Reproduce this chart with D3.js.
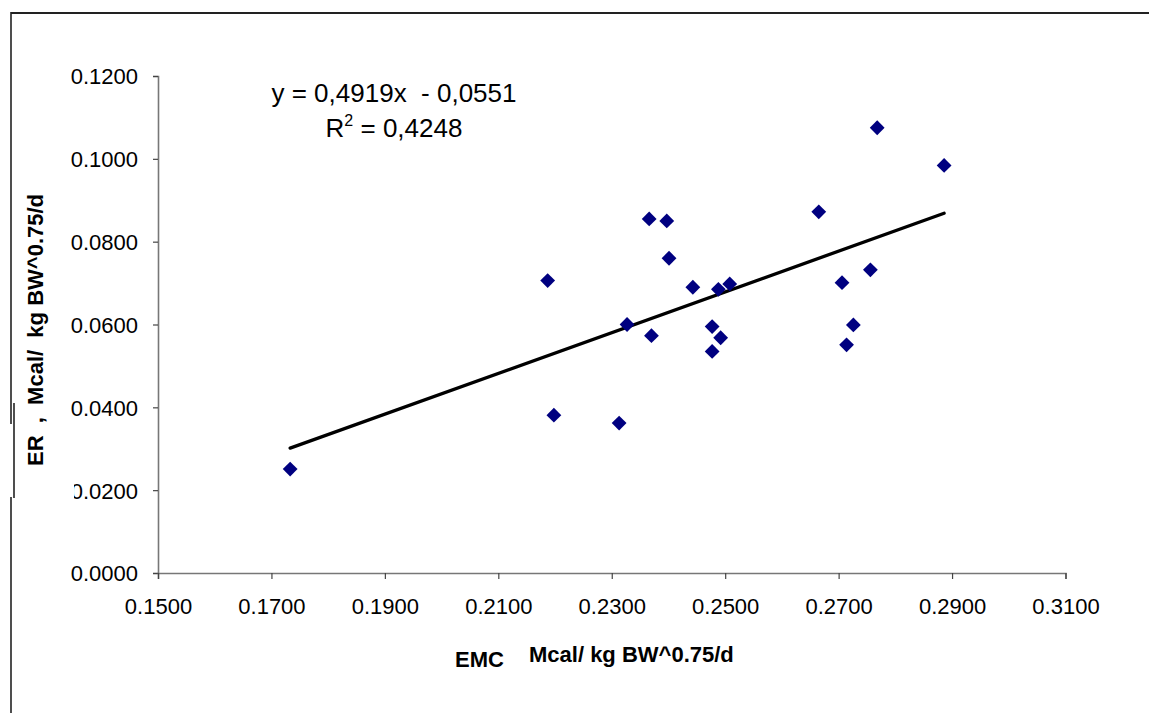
<!DOCTYPE html>
<html>
<head>
<meta charset="utf-8">
<script src="https://cdn.jsdelivr.net/npm/d3@7"></script>
<style>
  html, body { margin: 0; padding: 0; background: #fff; }
  svg { display: block; font-family: "Liberation Sans", Arial, sans-serif; }
</style>
</head>
<body>
<svg id="chart" width="1149" height="713"></svg>
<script>
// ---- data ----
const emc = [0.1733, 0.2187, 0.2198, 0.2313, 0.2327, 0.2366, 0.2370, 0.2397, 0.2401, 0.2443,
             0.2477, 0.2477, 0.2488, 0.2492, 0.2508, 0.2665, 0.2706, 0.2714, 0.2726, 0.2756,
             0.2768, 0.2886];
const er  = [0.0251, 0.0706, 0.0381, 0.0362, 0.0600, 0.0855, 0.0573, 0.0850, 0.0760, 0.0690,
             0.0595, 0.0535, 0.0685, 0.0568, 0.0698, 0.0872, 0.0701, 0.0551, 0.0599, 0.0732,
             0.1075, 0.0984];
const xTicks = [0.15, 0.17, 0.19, 0.21, 0.23, 0.25, 0.27, 0.29, 0.31];
const yTicks = [0, 0.02, 0.04, 0.06, 0.08, 0.10, 0.12];
const slope = 0.4919, intercept = -0.0551;
const eqText = "y = 0,4919x  - 0,0551";
const r2Text = " = 0,4248";
const xTitleA = "EMC";
const xTitleB = "Mcal/ kg BW^0.75/d";
const yTitle = "ER  ,  Mcal/  kg BW^0.75/d";

// ---- chart ----
const svg = d3.select("#chart");
const x = d3.scaleLinear().domain([0.15, 0.31]).range([158, 1065.5]);
const y = d3.scaleLinear().domain([0, 0.12]).range([573, 76]);

// outer frame (partial, as in the reference)
const frame = svg.append("g").attr("stroke", "#222").attr("fill", "none");
frame.append("line").attr("x1", 11).attr("x2", 1149).attr("y1", 13).attr("y2", 13).attr("stroke-width", 2);
frame.append("line").attr("x1", 11).attr("x2", 11).attr("y1", 12).attr("y2", 424).attr("stroke-width", 1.6);
frame.append("line").attr("x1", 14).attr("x2", 14).attr("y1", 403).attr("y2", 498).attr("stroke-width", 1.6);
frame.append("line").attr("x1", 11).attr("x2", 11).attr("y1", 497).attr("y2", 713).attr("stroke-width", 1.6);

// axes
const yAxis = svg.append("g").attr("transform", `translate(${x(0.15)},0)`)
  .call(d3.axisLeft(y).tickValues(yTicks).tickSize(5).tickPadding(15).tickFormat(d3.format(".4f")));
const xAxis = svg.append("g").attr("transform", `translate(0,${y(0)})`)
  .call(d3.axisBottom(x).tickValues(xTicks).tickSize(6).tickPadding(19).tickFormat(d3.format(".4f")));
[yAxis, xAxis].forEach(g => {
  g.select(".domain").attr("stroke", "#777").attr("stroke-width", 1.6);
  g.selectAll(".tick line").attr("stroke", "#444").attr("stroke-width", 1.2);
  g.selectAll(".tick text").attr("fill", "#000").attr("font-size", 22)
    .attr("font-family", "'Liberation Sans', Arial, sans-serif");
});
yAxis.selectAll(".tick text").attr("dy", "0.36em");

// clip for the partially hidden 0.0200 label (local tick coordinates)
svg.append("defs").append("clipPath").attr("id", "lblclip")
  .append("rect").attr("x", 74 - x(0.15)).attr("y", -50).attr("width", 200).attr("height", 100);
yAxis.selectAll(".tick").filter(d => Math.abs(d - 0.02) < 1e-9)
  .select("text").attr("clip-path", "url(#lblclip)");

// regression line
const xmin = d3.min(emc), xmax = d3.max(emc);
svg.append("line")
  .attr("x1", x(xmin)).attr("y1", y(slope * xmin + intercept))
  .attr("x2", x(xmax)).attr("y2", y(slope * xmax + intercept))
  .attr("stroke", "#000").attr("stroke-width", 3.3).attr("stroke-linecap", "round");

// points (diamonds)
const r = 7.4;
const diamond = `M0,${-r}L${r},0L0,${r}L${-r},0Z`;
const pts = emc.map((v, i) => [v, er[i]]);
svg.append("g").selectAll("path").data(pts).join("path")
  .attr("d", diamond)
  .attr("transform", d => `translate(${x(d[0])},${y(d[1])})`)
  .attr("fill", "#000080");

// equation
svg.append("text").attr("x", 394).attr("y", 102).attr("text-anchor", "middle")
  .attr("font-size", 26).style("white-space", "pre")
  .text(eqText);
const r2 = svg.append("text").attr("x", 394).attr("y", 137).attr("text-anchor", "middle")
  .attr("font-size", 26).style("white-space", "pre");
r2.append("tspan").text("R");
r2.append("tspan").attr("font-size", 16).attr("dy", -11).text("2");
r2.append("tspan").attr("dy", 11).text(r2Text);

// axis titles
svg.append("text").attr("x", 455).attr("y", 667).attr("font-size", 22).attr("font-weight", "bold").text(xTitleA);
svg.append("text").attr("x", 529).attr("y", 662).attr("font-size", 22).attr("font-weight", "bold").text(xTitleB);
svg.append("text").attr("transform", "translate(43,466) rotate(-90)")
  .attr("font-size", 22).attr("font-weight", "bold").style("white-space", "pre").text(yTitle);
</script>
</body>
</html>
